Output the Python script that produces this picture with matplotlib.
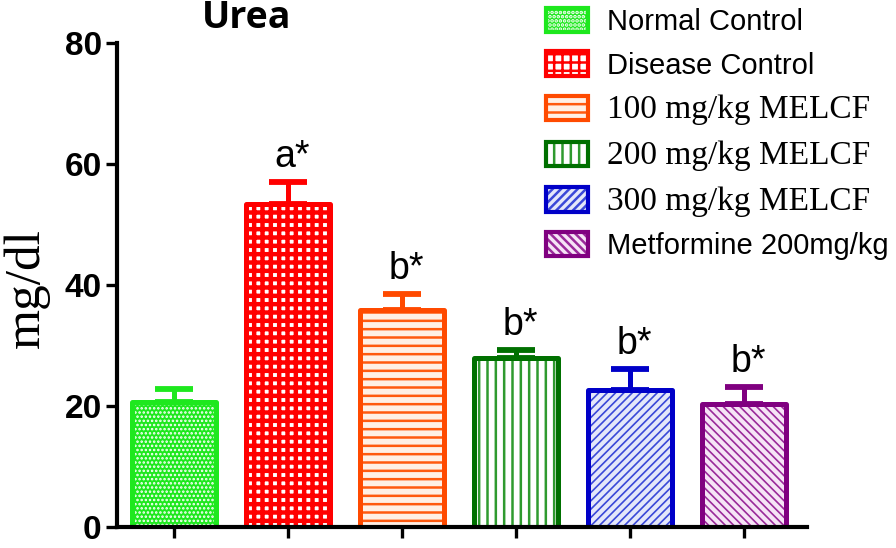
import matplotlib
matplotlib.use("Agg")
import matplotlib.pyplot as plt
from matplotlib.patches import Patch
from matplotlib.legend_handler import HandlerTuple

groups = ["Normal Control", "Disease Control", "100 mg/kg MELCF",
          "200 mg/kg MELCF", "300 mg/kg MELCF", "Metformine 200mg/kg"]
means = [20.6, 53.4, 35.9, 27.9, 22.6, 20.4]
errors = [2.2, 3.7, 2.6, 1.4, 3.5, 2.8]
marks = ["", "a*", "b*", "b*", "b*", "b*"]

edge_colors = ["#1ee81e", "#ff0000", "#ff4a00", "#007000", "#0000c8", "#800080"]
fill_colors = ["#1ee81e", "#ffffff", "#fff0e6", "#ffffff", "#e4e7fa", "#f6e4f6"]
hatch_colors = ["#ffffff", "#ff0000", "#ff5a10", "#2f9a2f", "#3a48d8", "#9a2a9a"]
hatches = ["....", "++", "--", "||", "////", "\\\\\\\\"]
hatch_lws = [1.2, 3.2, 1.8, 1.8, 1.2, 1.2]

serif_labels = {2, 3, 4}

plt.rcParams["hatch.linewidth"] = 1.8


def hatched_patch(i, **kw):
    with plt.rc_context({"hatch.linewidth": hatch_lws[i]}):
        p = Patch(facecolor=fill_colors[i], edgecolor=hatch_colors[i],
                  hatch=hatches[i], linewidth=0, **kw)
    if hasattr(p, "set_hatch_linewidth"):
        p.set_hatch_linewidth(hatch_lws[i])
    return p


fig = plt.figure(figsize=(8.96, 5.48), dpi=100)
ax = fig.add_axes([117 / 896, 1 - 527 / 548, 690 / 896, 484 / 548])

x = list(range(len(groups)))
width = 0.74
handles = []
for i in x:
    with plt.rc_context({"hatch.linewidth": hatch_lws[i]}):
        fill = ax.bar(i, means[i], width, color=fill_colors[i], edgecolor=hatch_colors[i],
                      hatch=hatches[i], linewidth=0, zorder=2)[0]
    if hasattr(fill, "set_hatch_linewidth"):
        fill.set_hatch_linewidth(hatch_lws[i])
    ax.bar(i, means[i], width, fill=False, edgecolor=edge_colors[i], linewidth=3.6,
           joinstyle="round", zorder=3)
    ax.errorbar(i, means[i], yerr=[[0], [errors[i]]], fmt="none", ecolor=edge_colors[i],
                elinewidth=3.6, capsize=14, capthick=4.2, zorder=2)
    if marks[i]:
        ax.annotate(marks[i], (i, means[i] + errors[i]), xytext=(3, 5),
                    textcoords="offset points", ha="center", va="bottom",
                    fontsize=27, family="Liberation Sans")

    p2 = Patch(fill=False, edgecolor=edge_colors[i], linewidth=3, joinstyle="round")
    handles.append((hatched_patch(i), p2))

ax.set_xlim(-0.5, 5.55)
ax.set_ylim(0, 80)
ax.set_yticks([0, 20, 40, 60, 80])
ax.set_xticks(x)
ax.set_xticklabels([])
ax.tick_params(axis="x", length=8, width=2.4, direction="out")
ax.tick_params(axis="y", length=8, width=2.4, direction="out", pad=3)
for lab in ax.get_yticklabels():
    lab.set_fontfamily("Liberation Sans")
    lab.set_fontweight("bold")
    lab.set_fontsize(24)
for s in ["top", "right"]:
    ax.spines[s].set_visible(False)
for s in ["left", "bottom"]:
    ax.spines[s].set_linewidth(3)
ax.spines["bottom"].set_zorder(4)

ax.set_ylabel("mg/dl", family="Liberation Serif", fontsize=37)
ax.yaxis.set_label_coords(-0.098, 0.494)

fig.text(247 / 896, 1 - 18 / 548, "Urea", ha="center", va="center",
         fontsize=27, fontweight="bold", family="Open Sans")

leg = fig.legend(handles, groups, handler_map={tuple: HandlerTuple(ndivide=1, pad=0)},
                 loc="upper left", bbox_to_anchor=(546 / 896, 1 - 8 / 548),
                 frameon=False, prop={"family": "Liberation Sans", "size": 21},
                 handlelength=1.45, handleheight=0.9, handletextpad=0.65,
                 labelspacing=0.52, borderpad=0, borderaxespad=0)
for i, t in enumerate(leg.get_texts()):
    if i in serif_labels:
        t.set_fontfamily("Liberation Serif")
        t.set_fontsize(24)

fig.savefig("out.png", dpi=100)
